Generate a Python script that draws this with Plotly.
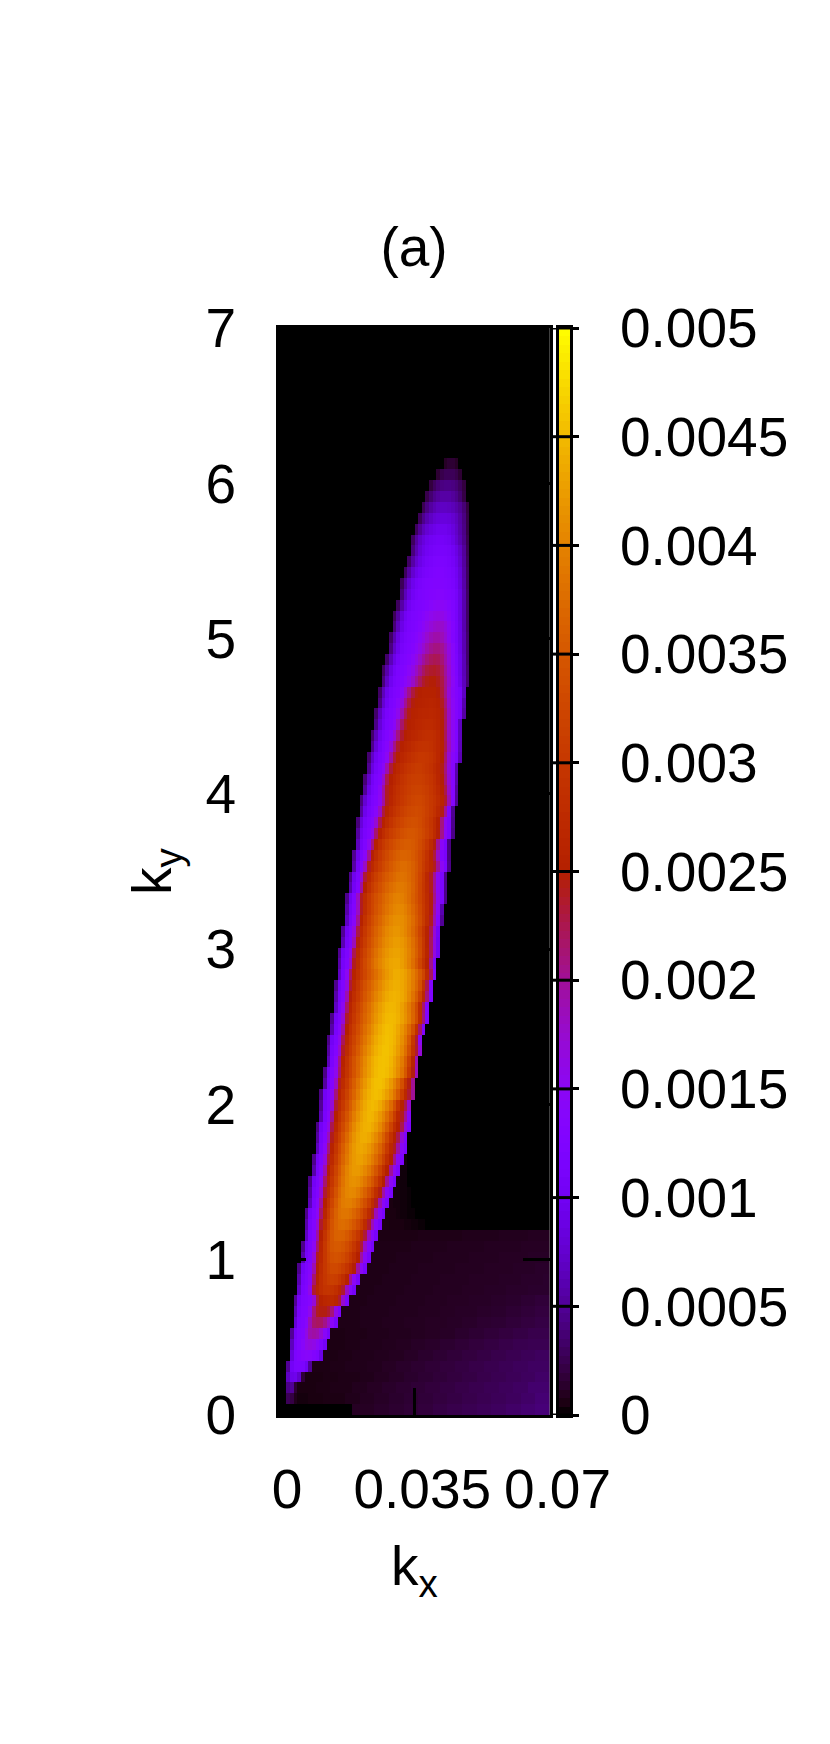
import math
import numpy as np
import plotly.graph_objects as go

W, H = 830, 1744
N_COLS, N_ROWS = 74, 100
KX_MAX, KY_MAX = 0.07, 7
CB_MAX = 0.005
UNIT = 1e-5  # table values below are in units of 1e-5

kx_ticks = [0, 0.035, 0.07]
kx_labels = ["0", "0.035", "0.07"]
ky_ticks = [0, 1, 2, 3, 4, 5, 6, 7]
cb_ticks = [0, 0.0005, 0.001, 0.0015, 0.002, 0.0025, 0.003, 0.0035, 0.004, 0.0045, 0.005]
cb_labels = ["0", "0.0005", "0.001", "0.0015", "0.002", "0.0025", "0.003", "0.0035", "0.004", "0.0045", "0.005"]

# row index -> (first non-empty column, cell values)
ridge_rows = {
87: (45, [12,16,16,12]),
86: (43, [16,24,28,28,28,24,16]),
85: (41, [20,30,38,42,44,44,42,38,30,20]),
84: (40, [24,36,46,52,56,56,56,52,46,36,22]),
83: (39, [26,42,54,62,68,70,70,68,64,58,50,38,20]),
82: (38, [28,46,60,70,78,82,84,84,82,76,68,56,42,22]),
81: (37, [30,50,66,78,86,92,96,96,96,92,84,72,58,44,22]),
80: (36, [30,54,72,84,94,100,104,106,106,104,100,90,76,62,46,24]),
79: (36, [40,62,80,92,100,106,110,112,113,112,108,100,88,72,52,26]),
78: (35, [32,56,76,90,100,108,114,118,120,120,118,114,106,94,76,54,28]),
77: (34, [30,54,76,92,102,110,116,120,124,125,125,122,118,112,100,82,56,30]),
76: (33, [28,52,76,94,106,114,120,124,126,128,128,128,126,122,116,104,84,58,30]),
75: (33, [38,64,86,102,112,118,122,126,130,132,133,133,130,126,120,108,88,60,32]),
74: (32, [30,56,80,100,112,118,122,126,132,138,144,146,146,142,134,124,110,88,60,32]),
73: (31, [28,54,80,100,112,118,122,128,136,146,154,160,162,160,152,140,126,110,88,60,32]),
72: (31, [38,66,90,106,116,120,126,134,146,158,168,175,178,176,166,150,132,112,90,60,32]),
71: (30, [32,60,86,104,114,120,126,134,146,160,174,186,192,192,186,172,152,130,112,90,62,34]),
70: (30, [42,72,94,110,118,124,132,144,158,174,190,202,208,208,202,186,164,140,116,92,62,34]),
69: (29, [34,64,90,108,118,124,132,144,160,178,196,210,220,224,222,212,192,168,140,118,94,64,34]),
68: (28, [30,58,86,106,118,124,132,144,160,180,200,218,230,236,238,234,222,198,172,144,120,94,64,36]),
67: (28, [40,72,98,114,122,130,142,158,178,200,220,236,244,248,248,242,228,204,176,148,124,96,66,36]),
66: (27, [32,66,94,112,122,128,145,175,205,230,245,250,254,256,256,254,248,232,205,170,145,128,115,70]),
65: (27, [42,78,102,118,126,140,165,200,228,246,252,256,258,260,262,260,254,240,212,175,148,130,112,60]),
64: (26, [34,68,96,114,124,134,155,190,222,244,254,258,262,264,266,268,266,260,246,218,180,150,130,112,55]),
63: (26, [44,80,104,118,128,145,180,216,240,252,258,264,268,272,274,274,270,262,248,220,180,150,128,68]),
62: (25, [34,66,96,114,126,140,170,208,236,250,258,264,270,276,280,282,282,278,268,252,222,182,150,126,68]),
61: (25, [46,82,106,122,136,165,205,236,252,262,270,278,284,288,290,290,286,278,268,254,225,185,150,125,66]),
60: (24, [36,72,100,116,128,150,195,232,252,264,274,282,290,296,300,300,298,292,282,268,250,215,172,140,120,62]),
59: (24, [48,86,108,122,145,190,232,254,268,278,288,296,302,306,306,302,296,288,276,262,244,210,168,135,60]),
58: (23, [38,74,104,118,130,175,224,250,266,278,290,298,306,310,312,312,308,302,294,282,266,248,215,172,135,58]),
57: (23, [50,90,110,122,145,195,238,258,274,286,296,304,310,316,318,318,314,308,298,286,272,254,226,180,135,52]),
56: (22, [40,78,104,118,128,150,195,240,262,278,290,300,308,316,322,325,325,320,312,302,292,278,262,236,190,135,50]),
55: (22, [54,94,112,124,140,180,230,258,276,290,302,312,320,326,330,332,330,324,314,302,288,270,244,200,130,48]),
54: (21, [40,82,108,122,136,172,224,256,276,292,306,316,324,332,336,340,338,332,322,310,296,276,250,208,152,122,46]),
53: (21, [54,96,116,130,160,215,254,278,296,310,320,330,338,344,348,348,344,336,326,314,298,276,248,205,150,120,44]),
52: (21, [66,106,124,152,208,254,282,302,316,328,338,346,352,356,356,352,344,332,318,300,276,246,200,146,116,42]),
51: (20, [48,94,118,142,200,248,278,300,316,330,342,352,360,365,365,362,354,342,328,310,288,262,230,180,130,112,42]),
50: (20, [56,106,132,180,240,270,292,310,326,340,352,362,370,375,375,370,360,346,328,306,284,264,240,200,150,118,45]),
49: (19, [46,96,120,170,232,268,292,312,328,342,354,364,372,380,382,380,372,360,344,324,300,270,240,200,150,118,45]),
48: (19, [58,104,130,196,250,282,306,324,340,354,366,376,384,390,390,386,376,362,344,322,298,272,242,200,150,118,45]),
47: (18, [46,98,124,180,240,276,302,322,338,352,366,378,388,396,398,396,388,376,360,342,322,300,276,246,205,155,120,45]),
46: (18, [58,106,130,180,240,278,304,324,342,358,372,384,394,402,405,404,396,384,368,350,328,304,278,246,195,150,60]),
45: (18, [70,112,140,200,255,288,314,334,352,368,382,394,404,411,412,410,402,390,374,354,332,306,276,240,190,135,50]),
44: (17, [50,104,125,165,228,272,300,324,344,362,378,392,404,412,418,418,412,402,388,370,348,322,292,258,225,170,105]),
43: (17, [62,110,130,185,245,282,308,332,352,370,386,400,410,418,424,424,420,410,396,378,356,330,298,258,220,165,100]),
42: (16, [48,102,122,155,225,268,296,320,342,362,380,396,408,418,426,430,430,424,414,400,382,360,332,298,262,220,165,100]),
41: (16, [58,108,128,175,240,276,304,328,350,370,388,402,414,424,432,434,434,426,414,398,378,352,322,290,256,205,120]),
40: (16, [70,114,150,215,258,282,305,325,345,362,378,394,408,420,430,438,438,434,426,412,394,374,350,322,275,220,135]),
39: (15, [46,104,125,165,232,270,296,318,340,358,374,390,404,418,428,436,441,440,434,424,410,392,370,340,290,225,130]),
38: (15, [58,110,132,190,248,280,304,326,348,366,384,400,414,426,436,442,444,442,436,424,406,384,356,318,270,210,125]),
37: (15, [70,116,150,215,262,292,316,338,360,378,396,412,426,436,444,447,446,440,428,412,392,366,332,280,215,130]),
36: (14, [46,106,125,170,236,272,300,324,346,366,384,402,418,432,442,448,450,448,442,430,414,394,368,334,280,210,125]),
35: (14, [58,112,135,195,250,284,310,334,356,376,394,412,428,440,448,453,452,446,434,418,398,372,336,285,215,130]),
34: (13, [44,102,122,155,222,266,296,320,344,366,386,404,422,436,446,452,455,452,444,430,412,388,354,300,235,150]),
33: (13, [54,110,130,175,238,276,304,330,354,376,396,414,430,442,450,456,456,450,440,424,404,378,340,290,235,170]),
32: (13, [66,116,145,205,256,288,316,342,366,386,406,424,438,448,454,456,454,446,432,414,392,360,315,260,190]),
31: (12, [44,104,125,155,215,262,292,318,344,368,390,410,426,440,450,455,456,452,442,428,408,384,350,300,245,185]),
30: (12, [54,110,132,180,240,276,304,332,358,382,402,420,436,448,454,455,450,438,422,400,374,338,290,245,200]),
29: (11, [42,102,122,150,210,258,288,316,344,368,392,412,430,442,450,453,450,440,426,408,384,352,310,270,235,200]),
28: (11, [50,108,128,170,235,272,302,330,356,382,404,422,436,446,450,446,436,420,400,374,340,295,255,225,175]),
27: (11, [62,114,140,200,252,286,316,344,370,394,414,430,440,447,444,434,420,402,378,348,308,266,240,200,140]),
26: (10, [44,104,124,160,225,268,300,330,358,384,406,424,436,442,443,436,424,406,384,356,320,280,250,225,170,125]),
25: (10, [54,110,132,185,242,282,314,344,372,396,416,430,438,439,434,422,406,386,360,326,288,255,225,170,125]),
24: (10, [68,116,145,210,258,296,328,358,384,406,422,432,434,430,420,406,388,366,338,304,268,240,195,145,120]),
23: (9, [46,106,125,165,232,272,306,338,366,390,410,422,428,428,420,408,392,372,346,316,280,250,205,150,122]),
22: (9, [58,112,135,190,248,286,320,350,378,400,414,422,422,416,404,390,370,346,316,282,250,200,150,122]),
21: (8, [44,104,122,150,215,262,298,330,360,384,402,412,414,410,400,386,368,346,318,284,250,200,150,120]),
20: (8, [54,110,128,170,235,276,310,342,370,390,402,406,404,394,380,362,340,314,280,245,195,145,118]),
19: (8, [66,116,140,195,250,290,324,354,378,392,396,396,388,374,356,336,310,278,240,190,145,118]),
18: (7, [46,106,124,150,215,262,302,336,362,380,386,386,380,368,352,332,308,276,238,185,142,116]),
17: (7, [58,112,130,172,236,278,314,344,364,374,376,372,362,348,330,308,276,236,185,140,115]),
16: (7, [70,118,135,195,250,292,324,348,362,364,362,352,338,320,298,272,232,180,138,112]),
15: (6, [46,104,122,150,215,262,300,330,346,352,352,346,334,318,298,272,232,178,135,110]),
14: (6, [60,110,125,170,240,268,300,325,338,342,340,332,318,300,278,250,195,145,115]),
13: (5, [46,104,120,135,190,248,276,300,318,328,328,322,310,294,274,248,195,145,112]),
12: (5, [60,110,122,145,215,255,280,298,310,314,310,298,280,255,200,148,112]),
11: (5, [74,116,125,160,235,262,280,292,295,292,282,264,235,180,135,108]),
10: (4, [50,105,122,125,135,170,230,255,265,270,272,262,235,175,120]),
9: (4, [64,112,125,130,155,210,240,245,245,236,210,160,118]),
8: (4, [80,118,125,140,185,215,220,218,205,180,145,112]),
7: (3, [50,106,124,132,160,190,195,190,172,145,112]),
6: (3, [66,112,125,140,160,165,160,145,128,105]),
5: (3, [84,118,128,136,140,138,130,120,90]),
4: (2, [50,104,118,120,118,100,50]),
3: (2, [70,92,95,75,18]),
2: (2, [45,50,16]),
1: (2, [28,22,8]),
0: (0, []),
}

# faint floor to the right of the ridge: row -> (value, column where that value stops)
floor_runs = {
23: [(3,35)],
22: [(3,35)],
21: [(4,33),(3,35)],
20: [(4,33),(3,35),(2,36)],
19: [(5,31),(4,33),(3,35),(2,36)],
18: [(5,32),(4,33),(3,35),(2,37)],
17: [(6,30),(5,34),(4,36),(3,38),(2,40)],
16: [(6,38),(7,50),(8,60),(9,68),(10,74)],
15: [(7,36),(8,46),(9,56),(10,66),(11,74)],
14: [(7,32),(8,42),(9,52),(10,60),(11,68),(12,74)],
13: [(7,30),(8,38),(9,48),(10,56),(11,64),(12,70),(13,74)],
12: [(7,28),(8,36),(9,44),(10,52),(11,60),(12,66),(13,72),(14,74)],
11: [(7,26),(8,34),(9,42),(10,50),(11,56),(12,62),(13,68),(14,74)],
10: [(7,24),(8,32),(9,40),(10,46),(11,52),(12,58),(13,62),(14,66),(16,70),(18,74)],
9: [(7,22),(8,30),(9,38),(10,44),(11,48),(12,54),(13,58),(14,62),(16,66),(18,70),(20,74)],
8: [(7,22),(8,28),(9,34),(10,40),(11,46),(12,50),(13,54),(15,58),(16,62),(18,66),(20,70),(22,74)],
7: [(6,18),(7,24),(8,30),(9,36),(10,40),(11,44),(12,48),(14,52),(16,56),(18,60),(20,64),(22,68),(24,74)],
6: [(6,18),(7,22),(8,28),(9,32),(10,36),(12,40),(13,44),(15,48),(17,52),(19,56),(21,60),(23,64),(25,68),(26,74)],
5: [(6,16),(7,20),(8,26),(9,30),(10,34),(12,38),(14,42),(16,46),(18,50),(20,54),(22,58),(24,62),(26,66),(28,70),(30,74)],
4: [(6,14),(7,18),(8,24),(9,28),(11,32),(13,36),(15,40),(17,44),(19,48),(21,52),(23,56),(25,60),(27,64),(29,68),(31,74)],
3: [(5,12),(6,16),(7,22),(8,26),(10,30),(12,34),(14,38),(16,42),(18,46),(20,50),(22,54),(24,58),(26,62),(28,66),(30,70),(33,74)],
2: [(5,10),(6,14),(7,20),(9,24),(11,28),(13,32),(15,36),(17,40),(19,44),(21,48),(23,52),(25,56),(27,60),(29,64),(31,68),(35,74)],
1: [(4,8),(5,12),(6,18),(8,22),(10,26),(12,30),(14,34),(16,38),(18,42),(20,46),(22,50),(24,54),(26,58),(28,62),(30,66),(33,70),(37,74)],
0: [(0,20),(11,26),(13,30),(15,34),(17,38),(19,42),(22,46),(24,50),(26,54),(28,58),(30,62),(33,66),(36,70),(39,74)],
}

grid = np.zeros((N_ROWS, N_COLS))
for r, (first, vals) in ridge_rows.items():
    c = first
    for v in vals:
        grid[r, c] = v
        c += 1
    for v, stop in floor_runs.get(r, []):
        while c < stop:
            grid[r, c] = v
            c += 1
grid *= UNIT

# gnuplot palette rgbformulae 7,5,15
def palette(t):
    rr = math.sqrt(t)
    gg = t ** 3
    bb = max(0.0, math.sin(2 * math.pi * t))
    return f"rgb({round(255*rr)},{round(255*gg)},{round(255*bb)})"

colorscale = [[i / 100, palette(i / 100)] for i in range(101)]
cb_levels = np.linspace(0, CB_MAX, 129)
cb_centers = (cb_levels[:-1] + cb_levels[1:]) / 2

def fx(px):
    return px / W

def fy(py):
    return 1 - py / H

TOP, BOTTOM = 328, 1415
FONT = "Liberation Sans"
BIG = 55

fig = go.Figure()
fig.add_trace(go.Heatmap(
    z=grid, x0=KX_MAX / N_COLS / 2, dx=KX_MAX / N_COLS,
    y0=KY_MAX / N_ROWS / 2, dy=KY_MAX / N_ROWS,
    colorscale=colorscale, zmin=0, zmax=CB_MAX, showscale=False,
    xaxis="x", yaxis="y",
))
fig.add_trace(go.Heatmap(
    z=[[v] for v in cb_centers], x=[0.5], y=cb_centers,
    colorscale=colorscale, zmin=0, zmax=CB_MAX, showscale=False,
    xaxis="x2", yaxis="y2",
))

shapes = [
    dict(type="line", xref="paper", yref="y2", x0=fx(553), x1=fx(573), y0=t, y1=t,
         line=dict(color="black", width=3), layer="above")
    for t in cb_ticks
]

fig.update_layout(
    width=W, height=H, paper_bgcolor="white", plot_bgcolor="black",
    margin=dict(l=0, r=0, t=0, b=0, autoexpand=False), showlegend=False,
    font=dict(family=FONT, size=BIG, color="black"),
    title=dict(text="(a)", x=fx(414), y=fy(247), xanchor="center", yanchor="middle",
               font=dict(family=FONT, size=BIG, color="black")),
    shapes=shapes,
    xaxis=dict(
        domain=[fx(279), fx(549.5)], range=[0, KX_MAX], anchor="y", automargin=False,
        tickvals=kx_ticks, ticktext=kx_labels, ticks="inside", ticklen=27, tickwidth=3,
        tickcolor="black", showgrid=False, zeroline=False, showline=True, linecolor="black",
        linewidth=3, mirror="ticks", ticklabelstandoff=24, ticklabelshift=8,
        tickfont=dict(size=BIG), title=dict(text="k<sub>x</sub>", standoff=28, font=dict(size=BIG)),
    ),
    yaxis=dict(
        domain=[fy(BOTTOM), fy(TOP)], range=[0, KY_MAX], anchor="x", automargin=False,
        tickvals=ky_ticks, ticks="inside", ticklen=27, tickwidth=3,
        tickcolor="black", showgrid=False, zeroline=False, showline=True, linecolor="black",
        linewidth=3, mirror="ticks", ticklabelstandoff=29,
        tickfont=dict(size=BIG), title=dict(text="k<sub>y</sub>", standoff=17, font=dict(size=BIG)),
    ),
    xaxis2=dict(
        domain=[fx(559), fx(570)], range=[0, 1], anchor="y2", showticklabels=False, ticks="",
        automargin=False,
        showgrid=False, zeroline=False, showline=True, linecolor="black", linewidth=3, mirror=True,
    ),
    yaxis2=dict(
        domain=[fy(BOTTOM), fy(TOP)], range=[0, CB_MAX], anchor="x2", side="right", automargin=False,
        tickvals=cb_ticks, ticktext=cb_labels, ticks="outside", ticklen=6, tickwidth=3,
        tickcolor="black", showgrid=False, zeroline=False, showline=True, linecolor="black",
        linewidth=3, mirror=True, ticklabelstandoff=30, tickfont=dict(size=BIG),
    ),
)

fig.write_html("out.html", config={"displayModeBar": False},
               post_script="document.body.style.margin='0';")
